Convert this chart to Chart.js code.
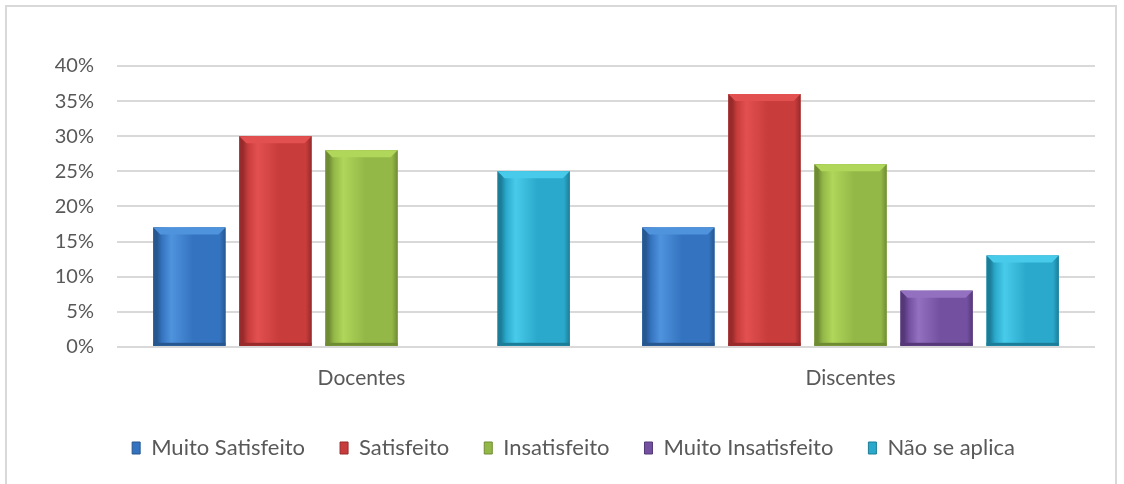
<!DOCTYPE html>
<html>
<head>
<meta charset="utf-8">
<script src="https://cdn.jsdelivr.net/npm/chart.js@4.4.0/dist/chart.umd.min.js"></script>
<style>
  html, body { margin: 0; padding: 0; background: #ffffff; }
  #frame { position: absolute; left: 5px; top: 5px; width: 1112px; height: 500px; border: 2px solid #d9d9d9; box-sizing: border-box; }
  #wrap { position: absolute; left: 0; top: 0; width: 1124px; height: 484px; }
</style>
</head>
<body>
<div id="frame"></div>
<div id="wrap"><canvas id="c" width="1124" height="484"></canvas></div>
<script>
const categories = ["Docentes", "Discentes"];
const seriesNames = ["Muito Satisfeito", "Satisfeito", "Insatisfeito", "Muito Insatisfeito", "Não se aplica"];
const muitoSatisfeito = [17, 17];
const satisfeito = [30, 36];
const insatisfeito = [28, 26];
const muitoInsatisfeito = [0, 8];
const naoSeAplica = [25, 13];
const yTicks = [0, 5, 10, 15, 20, 25, 30, 35, 40];

const baseColors = ["#3473bf", "#c83c3c", "#94b847", "#7450a0", "#2ba9cc"];
const lightColors = ["#4f93dd", "#e35050", "#b0d65a", "#9370c0", "#48cbea"];
const darkColors = ["#26578f", "#972a2a", "#6f8c33", "#543878", "#1c7d98"];

const bevelPlugin = {
  id: "bevel",
  afterDatasetsDraw(chart) {
    const ctx = chart.ctx;
    chart.data.datasets.forEach((ds, di) => {
      const meta = chart.getDatasetMeta(di);
      meta.data.forEach(bar => {
        const w = bar.width, x0 = bar.x - w / 2, top = bar.y, bottom = bar.base;
        const h = bottom - top;
        if (h < 1) return;
        ctx.save();
        const g = ctx.createLinearGradient(x0, 0, x0 + w, 0);
        g.addColorStop(0, darkColors[di]);
        g.addColorStop(0.05, darkColors[di]);
        g.addColorStop(0.12, baseColors[di]);
        g.addColorStop(0.25, lightColors[di]);
        g.addColorStop(0.55, baseColors[di]);
        g.addColorStop(0.92, baseColors[di]);
        g.addColorStop(1, darkColors[di]);
        ctx.fillStyle = g;
        ctx.fillRect(x0, top, w, h);
        const bv = Math.min(7, h / 2);
        ctx.fillStyle = lightColors[di];
        ctx.beginPath();
        ctx.moveTo(x0, top);
        ctx.lineTo(x0 + w, top);
        ctx.lineTo(x0 + w - bv, top + bv);
        ctx.lineTo(x0 + bv, top + bv);
        ctx.closePath();
        ctx.fill();
        ctx.fillStyle = darkColors[di];
        ctx.fillRect(x0, bottom - 3, w, 3);
        ctx.restore();
      });
    });
  }
};

const allData = [muitoSatisfeito, satisfeito, insatisfeito, muitoInsatisfeito, naoSeAplica];
const datasets = seriesNames.map((name, i) => ({
  label: name,
  data: allData[i],
  backgroundColor: baseColors[i],
  borderWidth: 0,
  categoryPercentage: 0.88,
  barPercentage: 0.84
}));

const FONT = "Lato, 'Open Sans', sans-serif";
const COLOR = "#595959";

new Chart(document.getElementById("c"), {
  type: "bar",
  data: { labels: categories, datasets },
  options: {
    responsive: false,
    animation: false,
    events: [],
    layout: { padding: { left: 26, top: 66, right: 3, bottom: 15 } },
    scales: {
      x: {
        grid: { display: false },
        border: { display: false },
        ticks: { color: COLOR, font: { family: FONT, size: 21 }, padding: 11 }
      },
      y: {
        min: 0, max: 40,
        afterFit: s => { s.width = 91; },
        afterBuildTicks: s => { s.ticks = yTicks.map(v => ({ value: v })); },
        grid: { color: "#d9d9d9", lineWidth: 2, drawTicks: false },
        border: { display: false },
        ticks: { color: COLOR, font: { family: FONT, size: 20 }, padding: 23, callback: v => v + "%" }
      },
      yPad: {
        position: "right",
        display: true,
        afterFit: s => { s.width = 26; },
        grid: { display: false, drawOnChartArea: false },
        border: { display: false },
        ticks: { display: false }
      }
    },
    plugins: {
      legend: {
        position: "bottom",
        labels: {
          color: COLOR,
          font: { family: FONT, size: 22 },
          boxWidth: 8, boxHeight: 12,
          padding: 35,
          generateLabels: chart => chart.data.datasets.map((d, i) => ({
            text: d.label, fillStyle: baseColors[i], strokeStyle: darkColors[i], lineWidth: 1, datasetIndex: i, fontColor: COLOR
          }))
        }
      },
      tooltip: { enabled: false }
    }
  },
  plugins: [bevelPlugin]
});
</script>
</body>
</html>
